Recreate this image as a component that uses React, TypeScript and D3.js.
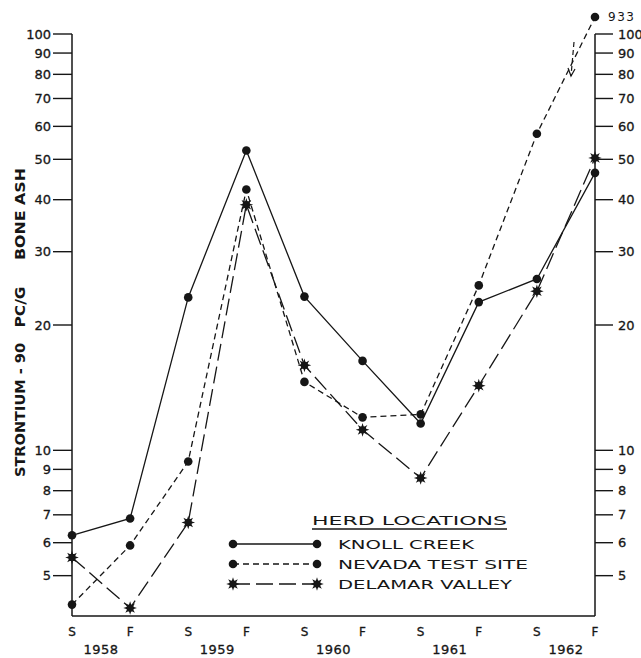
import React from 'react';
import * as d3 from 'd3';

// sampling periods (spring / fall) and the years under each pair
const seasons = ['S', 'F', 'S', 'F', 'S', 'F', 'S', 'F', 'S', 'F'];
const years = ['1958', '1959', '1960', '1961', '1962'];

// Sr-90, pc/g bone ash
const knollCreek = [6.25, 6.86, 23.3, 52.5, 23.4, 16.4, 11.6, 22.7, 25.8, 46.4];
const nevadaTestSite = [4.26, 5.91, 9.4, 42.3, 14.6, 12.0, 12.2, 24.9, 57.6, 933];
const delamarValley = [5.53, 4.18, 6.71, 38.9, 16.0, 11.2, 8.58, 14.3, 24.1, 50.4];

const tickValues = [5, 6, 7, 8, 9, 10, 20, 30, 40, 50, 60, 70, 80, 90, 100];

const W = 641;
const H = 658;
const INK = '#161616';
const FONT = '"DejaVu Sans", sans-serif';

const x = d3.scalePoint<number>().domain(d3.range(seasons.length)).range([72, 595]);
const y = d3.scaleLog().domain([4, 100]).range([616, 34]);
const yTop = y(100);

// values over the top of the scale get plotted just above it (off-scale point)
const yPos = (v: number) => (v > 100 ? yTop - 17 : y(v));

const line = d3
  .line<number>()
  .x((_, i) => x(i) as number)
  .y(d => yPos(d));

const starPath = d3
  .lineRadial<number>()
  .angle(i => (i * Math.PI) / 8)
  .radius(i => (i % 2 ? 3.2 : 6.8))
  .curve(d3.curveLinearClosed)(d3.range(16)) as string;

type Series = {name: string; values: number[]; dash: string; marker: 'dot' | 'star'; width: number};

const series: Series[] = [
  {name: 'KNOLL  CREEK', values: knollCreek, dash: 'none', marker: 'dot', width: 136},
  {name: 'NEVADA  TEST  SITE', values: nevadaTestSite, dash: '6,4', marker: 'dot', width: 190},
  {name: 'DELAMAR  VALLEY', values: delamarValley, dash: '17,6', marker: 'star', width: 174},
];

function Marker({cx, cy, kind}: {cx: number; cy: number; kind: 'dot' | 'star'}) {
  if (kind === 'star') {
    return (
      <g transform={`translate(${cx},${cy})`}>
        <path d={starPath} fill={INK} />
        <circle r={3.6} fill={INK} />
      </g>
    );
  }
  return <circle cx={cx} cy={cy} r={4.3} fill={INK} />;
}

export default function App() {
  const xL = x(0) as number;
  const xR = x(seasons.length - 1) as number;
  const yBot = y(4);

  const lx0 = 233;
  const lx1 = 317;
  const legendRows = [544, 564, 584];

  return (
    <svg
      width={W}
      height={H}
      viewBox={`0 0 ${W} ${H}`}
      style={{position: 'absolute', left: 0, top: 0, display: 'block', background: '#fff'}}
      fontFamily={FONT}
    >
      <rect width={W} height={H} fill="#fff" />

      {/* frame: two value axes and the baseline */}
      <g stroke={INK} strokeWidth={1.5} fill="none">
        <line x1={xL} x2={xL} y1={yTop} y2={yBot} />
        <line x1={xR} x2={xR} y1={yTop} y2={yBot} />
        <line x1={xL} x2={xR} y1={yBot} y2={yBot} />
      </g>

      {/* left ticks */}
      {tickValues.map(v => (
        <g key={'l' + v}>
          <line x1={xL - 19} x2={xL} y1={y(v)} y2={y(v)} stroke={INK} strokeWidth={1.4} />
          <text x={xL - 21} y={y(v)} dy="0.36em" textAnchor="end" fontSize={13} fill={INK} stroke={INK} strokeWidth={0.3}>
            {v}
          </text>
        </g>
      ))}

      {/* right ticks */}
      {tickValues.map(v => (
        <g key={'r' + v}>
          <line x1={xR} x2={xR + 18} y1={y(v)} y2={y(v)} stroke={INK} strokeWidth={1.4} />
          <text x={xR + 23} y={y(v)} dy="0.36em" textAnchor="start" fontSize={13} fill={INK} stroke={INK} strokeWidth={0.3}>
            {v}
          </text>
        </g>
      ))}

      {/* y title */}
      <g fontSize={14} fontWeight="bold" fill={INK}>
        <text transform={`translate(25,410) rotate(-90)`} textAnchor="middle" textLength={134} lengthAdjust="spacingAndGlyphs">
          STRONTIUM - 90
        </text>
        <text transform={`translate(25,307) rotate(-90)`} textAnchor="middle" textLength={41} lengthAdjust="spacingAndGlyphs">
          PC/G
        </text>
        <text transform={`translate(25,214) rotate(-90)`} textAnchor="middle" textLength={92} lengthAdjust="spacingAndGlyphs">
          BONE  ASH
        </text>
      </g>

      {/* x labels */}
      {seasons.map((s, i) => (
        <text key={'s' + i} x={x(i)} y={632} dy="0.36em" textAnchor="middle" fontSize={12} fill={INK} stroke={INK} strokeWidth={0.3}>
          {s}
        </text>
      ))}
      {years.map((yr, i) => (
        <text
          key={yr}
          x={((x(2 * i) as number) + (x(2 * i + 1) as number)) / 2}
          y={649}
          dy="0.36em"
          textAnchor="middle"
          fontSize={13}
          fill={INK}
          stroke={INK}
          strokeWidth={0.3}
          letterSpacing={0.5}
        >
          {yr}
        </text>
      ))}

      {/* series */}
      {series.map(s => (
        <g key={s.name}>
          <path d={line(s.values) as string} fill="none" stroke={INK} strokeWidth={1.3} strokeDasharray={s.dash} />
          {s.values.map((v, i) => (
            <Marker key={i} cx={x(i) as number} cy={yPos(v)} kind={s.marker} />
          ))}
        </g>
      ))}

      {/* off-scale value and break mark */}
      <text x={xR + 13} y={yTop - 17} dy="0.36em" fontSize={12} fill={INK} letterSpacing={1.5}>
        933
      </text>
      <g stroke={INK} strokeWidth={1.2} fill="none">
        <line x1={xR - 21} y1={yTop + 8} x2={xR - 24} y2={yTop + 42} strokeDasharray="5,3" />
        <path d={`M${xR - 27},${yTop + 34} L${xR - 24},${yTop + 42} L${xR - 20},${yTop + 35}`} />
      </g>

      {/* legend */}
      <text x={312} y={520} dy="0.36em" fontSize={13} fill={INK} textLength={195} lengthAdjust="spacingAndGlyphs">
        HERD  LOCATIONS
      </text>
      <line x1={312} x2={507} y1={529} y2={529} stroke={INK} strokeWidth={1.3} />
      {series.map((s, i) => (
        <g key={'lg' + s.name}>
          <line x1={lx0} x2={lx1} y1={legendRows[i]} y2={legendRows[i]} stroke={INK} strokeWidth={1.3} strokeDasharray={s.dash} />
          <Marker cx={lx0} cy={legendRows[i]} kind={s.marker} />
          <Marker cx={lx1} cy={legendRows[i]} kind={s.marker} />
          <text x={338} y={legendRows[i]} dy="0.36em" fontSize={13} fill={INK} textLength={s.width} lengthAdjust="spacingAndGlyphs">
            {s.name}
          </text>
        </g>
      ))}
    </svg>
  );
}
